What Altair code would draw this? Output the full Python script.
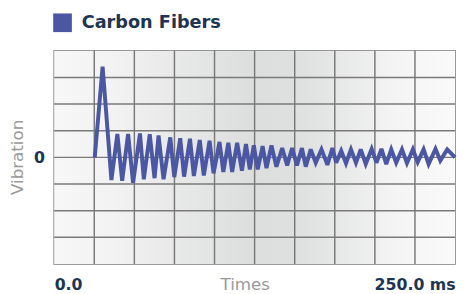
import altair as alt
import pandas as pd

series_name = "Carbon Fibers"

times = [25.3, 30.2, 35.7, 39.4, 42.4, 46.1, 49.2, 53.5, 55.9, 59.6, 62.6, 65.1, 68.2,
         72.4, 74.9, 78.6, 81.0, 84.7, 87.1, 90.8, 93.3, 96.9, 99.4, 103.1, 105.5,
         108.6, 111.0, 114.1, 117.1, 119.6, 122.0, 124.5, 126.9, 130.0, 132.4, 135.5,
         138.6, 142.2, 145.3, 148.4, 151.4, 154.5, 156.9, 160.0, 163.1, 166.7, 170.4,
         173.5, 175.9, 179.0, 182.0, 185.1, 188.2, 191.2, 194.3, 198.0, 201.0, 204.1,
         207.1, 210.2, 213.3, 216.9, 220.0, 223.7, 226.7, 230.4, 233.5, 237.8, 240.8,
         245.1, 250.0]
vibration = [0.0, 3.4, -0.85, 0.88, -0.88, 0.88, -0.95, 0.9, -0.82, 0.87, -0.78, 0.82, -0.82,
             0.75, -0.74, 0.72, -0.72, 0.7, -0.7, 0.65, -0.68, 0.62, -0.6, 0.58, -0.55,
             0.55, -0.55, 0.55, -0.5, 0.5, -0.45, 0.45, -0.45, 0.42, -0.4, 0.45,
             -0.35, 0.35, -0.3, 0.35, -0.3, 0.35, -0.35, 0.3, -0.2, 0.3, -0.28,
             0.35, -0.2, 0.25, -0.22, 0.3, -0.2, 0.3, -0.25, 0.32, -0.2, 0.32,
             -0.25, 0.3, -0.2, 0.3, -0.22, 0.3, -0.18, 0.3, -0.25, 0.32, -0.12,
             0.3, 0.0]

x_domain = [0, 250]
y_domain = [-4, 4]
x_grid = [25, 50, 75, 100, 125, 150, 175, 200, 225]
y_grid = [-3, -2, -1, 0, 1, 2, 3]
x_ticks = [0, 250]
y_ticks = [0]

line_color = "#4b57a2"
dark = "#1d3552"
grey_text = "#9a9a9a"
grid_color = "#7a7a7a"

df = pd.DataFrame({"t": times, "v": vibration, "series": [series_name] * len(times)})
bg = pd.DataFrame({"t": [x_domain[0]], "t2": [x_domain[1]], "v": [y_domain[0]], "v2": [y_domain[1]]})
vg = pd.DataFrame({"t": x_grid})
hg = pd.DataFrame({"v": y_grid})

xs = alt.Scale(domain=x_domain, nice=False, zero=False)
ys = alt.Scale(domain=y_domain, nice=False, zero=False)

xa = alt.Axis(
    values=x_ticks, grid=False, ticks=False, domain=False,
    labelExpr="datum.value == 0 ? '0.0' : '250.0 ms'",
    labelFlush=True, labelOverlap=False,
    labelFont="DejaVu Sans", labelFontWeight="bold", labelFontSize=16,
    labelColor=dark, labelPadding=13,
    title="Times", titleFont="DejaVu Sans", titleFontWeight="normal",
    titleFontSize=17, titleColor=grey_text,
    titleX=194, titleY=26, titleAlign="center", titleBaseline="alphabetic",
)
ya = alt.Axis(
    values=y_ticks, grid=False, ticks=False, domain=False,
    labelExpr="'0'",
    labelFont="DejaVu Sans", labelFontWeight="bold", labelFontSize=16,
    labelColor=dark, labelPadding=10,
    title="Vibration", titleFont="DejaVu Sans", titleFontWeight="normal",
    titleFontSize=17, titleColor=grey_text,
    titleX=-37, titleY=108, titleAlign="center", titleBaseline="middle",
    titleAngle=270,
)

gradient = alt.Gradient(
    gradient="linear", x1=0, x2=1, y1=0, y2=0,
    stops=[
        alt.GradientStop(color="#f7f7f7", offset=0),
        alt.GradientStop(color="#f2f2f2", offset=0.15),
        alt.GradientStop(color="#dcdddd", offset=0.5),
        alt.GradientStop(color="#dfe0e0", offset=0.62),
        alt.GradientStop(color="#f4f4f4", offset=0.85),
        alt.GradientStop(color="#fafafa", offset=1),
    ],
)

background = alt.Chart(bg).mark_rect(fill=gradient).encode(
    x=alt.X("t:Q", scale=xs, axis=xa),
    x2="t2:Q",
    y=alt.Y("v:Q", scale=ys, axis=ya),
    y2="v2:Q",
)

vrules = alt.Chart(vg).mark_rule(color=grid_color, strokeWidth=1.5).encode(
    x=alt.X("t:Q", scale=xs, axis=xa)
)
hrules = alt.Chart(hg).mark_rule(color=grid_color, strokeWidth=1.5).encode(
    y=alt.Y("v:Q", scale=ys, axis=ya)
)

line = alt.Chart(df).mark_line(strokeWidth=4, strokeJoin="miter", strokeMiterLimit=3).encode(
    x=alt.X("t:Q", scale=xs, axis=xa),
    y=alt.Y("v:Q", scale=ys, axis=ya),
    color=alt.Color(
        "series:N",
        scale=alt.Scale(range=[line_color]),
        legend=alt.Legend(
            title=None, orient="none", legendX=-1, legendY=-38,
            symbolType="square", symbolSize=361, symbolFillColor=line_color,
            symbolStrokeWidth=0, labelFont="DejaVu Sans", labelFontWeight="bold",
            labelFontSize=18, labelColor=dark, labelOffset=10, padding=0,
        ),
    ),
)

chart = alt.layer(background, vrules, hrules, line).properties(
    width=408, height=217,
    autosize=alt.AutoSizeParams(type="none"),
    padding={"left": 47, "top": 41, "right": 3, "bottom": 28},
).configure_view(stroke=grid_color, strokeWidth=1.5)

chart.save("out.html", embed_options={"renderer": "svg", "actions": False})
